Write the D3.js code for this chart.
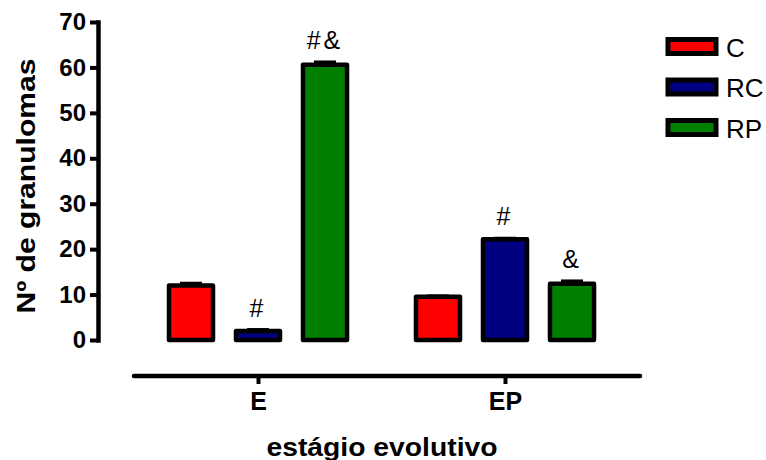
<!DOCTYPE html>
<html>
<head>
<meta charset="utf-8">
<script src="https://cdn.jsdelivr.net/npm/d3@7"></script>
<style>
  body { margin: 0; background: #fff; }
  text { font-family: Arial, "Liberation Sans", sans-serif; }
</style>
</head>
<body>
<div id="chart"></div>
<script>
// data
const groups = ["E", "EP"];
const series = ["C", "RC", "RP"];
const colors = ["#ff0000", "#000080", "#008000"];
const valuesE = [12, 2, 60.6];
const valuesEP = [9.5, 22.2, 12.4];
const errE = [0.5, 0.3, 0.6];
const errEP = [0.2, 0.2, 0.6];
const marksE = ["", "#", "#&"];
const marksEP = ["", "#", "&"];
const yTicks = [0, 10, 20, 30, 40, 50, 60, 70];

const width = 766, height = 460;
const font = "Arial, 'Liberation Sans', sans-serif";

const svg = d3.select("#chart").append("svg")
    .attr("width", width)
    .attr("height", height);

const y = d3.scaleLinear().domain([0, 70]).range([340, 22]);
const x0 = d3.scalePoint().domain(groups).range([258, 505]);
const x1 = d3.scaleBand().domain(series).range([-112, 112])
    .paddingInner(0.343).paddingOuter(0.343);

const rows = [];
groups.forEach((g, gi) => {
    const vals = gi === 0 ? valuesE : valuesEP;
    const errs = gi === 0 ? errE : errEP;
    const marks = gi === 0 ? marksE : marksEP;
    series.forEach((s, si) => {
        rows.push({group: g, series: s, value: vals[si], err: errs[si], mark: marks[si], color: colors[si]});
    });
});

const bw = x1.bandwidth();
const cx = d => x0(d.group) + x1(d.series) + bw / 2;

// error bars (only the upper part shows)
svg.selectAll(".err")
    .data(rows)
    .enter()
    .append("line")
    .attr("x1", d => cx(d) - 11)
    .attr("x2", d => cx(d) + 11)
    .attr("y1", d => y(d.value + d.err))
    .attr("y2", d => y(d.value + d.err))
    .attr("stroke", "#000")
    .attr("stroke-width", 3);

svg.selectAll(".err-v")
    .data(rows)
    .enter()
    .append("line")
    .attr("x1", cx)
    .attr("x2", cx)
    .attr("y1", d => y(d.value + d.err))
    .attr("y2", d => y(d.value))
    .attr("stroke", "#000")
    .attr("stroke-width", 3);

// bars
svg.selectAll(".bar")
    .data(rows)
    .enter()
    .append("rect")
    .attr("x", d => x0(d.group) + x1(d.series))
    .attr("y", d => y(d.value))
    .attr("width", bw)
    .attr("height", d => y(0) - y(d.value))
    .attr("fill", d => d.color)
    .attr("stroke", "#000")
    .attr("stroke-width", 4.5)
    .attr("stroke-linejoin", "round");

// significance marks
svg.selectAll(".mark")
    .data(rows.filter(d => d.mark))
    .enter()
    .append("text")
    .attr("x", cx)
    .attr("y", d => y(d.value + d.err) - 13)
    .attr("text-anchor", "middle")
    .attr("font-size", 25)
    .attr("letter-spacing", 3)
    .text(d => d.mark);

// y axis
const yAxis = svg.append("g")
    .attr("transform", "translate(98,0)")
    .call(d3.axisLeft(y).tickValues(yTicks).tickSize(8).tickSizeOuter(0));
yAxis.select(".domain").attr("stroke-width", 4.5).attr("stroke-linecap", "square");
yAxis.selectAll(".tick line").attr("stroke-width", 4);
yAxis.selectAll(".tick text")
    .attr("font-size", 24)
    .attr("font-weight", "bold")
    .attr("fill", "#000")
    .attr("font-family", font)
    .attr("x", -12);

// x axis
const xAxis = svg.append("g")
    .attr("transform", "translate(0,376)")
    .call(d3.axisBottom(x0).tickSize(8).tickSizeOuter(0).tickPadding(8));
xAxis.select(".domain").remove();
xAxis.append("line")
    .attr("x1", 134).attr("x2", 640)
    .attr("stroke", "#000")
    .attr("stroke-width", 4.5)
    .attr("stroke-linecap", "round");
xAxis.selectAll(".tick line").attr("stroke-width", 4);
xAxis.selectAll(".tick text")
    .attr("font-size", 25)
    .attr("font-weight", "bold")
    .attr("fill", "#000")
    .attr("font-family", font);

// axis titles
svg.append("text")
    .attr("transform", "translate(35,186) rotate(-90)")
    .attr("text-anchor", "middle")
    .attr("font-size", 25)
    .attr("font-weight", "bold")
    .attr("textLength", 255)
    .attr("lengthAdjust", "spacingAndGlyphs")
    .text("Nº de granulomas");

svg.append("text")
    .attr("x", 382)
    .attr("y", 456)
    .attr("text-anchor", "middle")
    .attr("font-size", 25)
    .attr("font-weight", "bold")
    .attr("textLength", 231)
    .attr("lengthAdjust", "spacingAndGlyphs")
    .text("estágio evolutivo");

// legend
const legend = svg.selectAll(".legend")
    .data(series)
    .enter()
    .append("g")
    .attr("transform", (d, i) => `translate(668,${39.5 + i * 40.5})`);
legend.append("rect")
    .attr("width", 48)
    .attr("height", 14)
    .attr("fill", (d, i) => colors[i])
    .attr("stroke", "#000")
    .attr("stroke-width", 5);
legend.append("text")
    .attr("x", 58)
    .attr("y", 17)
    .attr("font-size", 26)
    .text(d => d);
</script>
</body>
</html>
